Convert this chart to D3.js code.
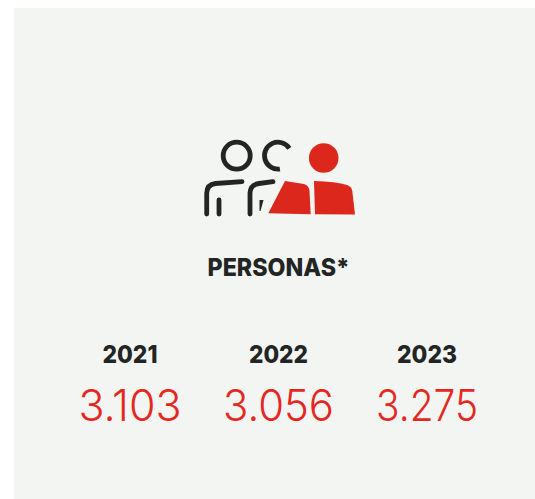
<!DOCTYPE html>
<meta charset="utf-8" />
<style>
    html, body { margin: 0; padding: 0; background: #fff; }
    svg { display: block; }
    text { font-family: Inter, Lato, sans-serif; text-anchor: middle; }
    .title { font-size: 24.5px; font-weight: 800; fill: #222524; }
    .year { font-size: 25px; font-weight: 800; fill: #222524; }
    .value { font-size: 44px; font-weight: 300; fill: #e5281f; }
</style>
<svg width="535" height="499"></svg>
<script src="https://d3js.org/d3.v7.min.js"></script>
<script>
    var years = ["2021", "2022", "2023"];
    var values = [3103, 3056, 3275];
    var title = "PERSONAS*";

    // the original font is narrower, squeeze the text to its measured widths
    var yearWidths = [55, 59, 60];
    var valueWidths = [103, 111, 102];

    var svg = d3.select("svg");
    var width = +svg.attr("width");
    var height = +svg.attr("height");

    // background panel
    svg.append("rect")
        .attr("x", 14).attr("y", 8)
        .attr("width", width - 14).attr("height", height - 8)
        .attr("fill", "#f3f5f3");

    // icon
    var icon = svg.append("g");
    var dark = icon.append("g")
        .attr("fill", "none")
        .attr("stroke", "#222524")
        .attr("stroke-width", 4.8)
        .attr("stroke-linecap", "round");
    dark.append("circle").attr("cx", 236.7).attr("cy", 155.7).attr("r", 13.5);
    dark.append("path")
        .attr("d", d3.arc()({ innerRadius: 13.5, outerRadius: 13.5, startAngle: 3.0, endAngle: 7.28 }))
        .attr("transform", "translate(278,155.7)");
    dark.append("path").attr("d", "M206.7 214V193Q207 184.5 215.5 183.5L242 181.7");
    dark.append("path").attr("d", "M219 200V214");
    dark.append("path").attr("d", "M250 214V193Q250.5 184.5 259 183.5L273 181.7");
    icon.append("path").attr("d", "M259.5 200L263.5 200L260.5 211L259.5 211Z").attr("fill", "#222524");

    var red = icon.append("g").attr("fill", "#dc281c");
    red.append("circle").attr("cx", 323.7).attr("cy", 158).attr("r", 14.8);
    red.append("path").attr("d", "M285 181L304 184Q309 185.5 309.5 191L310.7 214.3L268.3 213.3Z");
    red.append("path").attr("d", "M314 181Q336 181.5 347 185Q351.5 186.5 352.3 191L355 214.5L315 214.3Z");

    // title
    svg.append("text")
        .attr("class", "title")
        .attr("x", 278.5).attr("y", 276)
        .attr("textLength", 142).attr("lengthAdjust", "spacingAndGlyphs")
        .text(title);

    // year columns
    var x = d3.scalePoint().domain(years).range([130, 427]);
    var fmt = d3.formatLocale({ decimal: ",", thousands: ".", grouping: [3], currency: ["", ""] }).format(",d");

    svg.selectAll(".year")
        .data(years)
        .enter()
        .append("text")
        .attr("class", "year")
        .attr("x", function (d) { return x(d); })
        .attr("y", 363)
        .attr("textLength", function (d, i) { return yearWidths[i]; })
        .attr("lengthAdjust", "spacingAndGlyphs")
        .text(function (d) { return d; });

    svg.selectAll(".value")
        .data(values)
        .enter()
        .append("text")
        .attr("class", "value")
        .attr("x", function (d, i) { return x(years[i]); })
        .attr("y", 420.5)
        .attr("textLength", function (d, i) { return valueWidths[i]; })
        .attr("lengthAdjust", "spacingAndGlyphs")
        .text(function (d) { return fmt(d); });
</script>
